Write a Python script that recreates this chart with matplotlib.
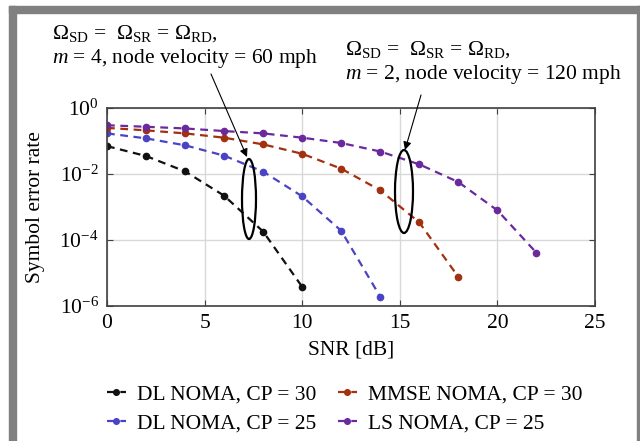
import numpy as np
import matplotlib
matplotlib.use('Agg')
from matplotlib import pyplot as plt
from matplotlib.patches import Ellipse, Rectangle

plt.rcParams['font.family'] = 'Liberation Serif'
plt.rcParams['mathtext.fontset'] = 'custom'
plt.rcParams['mathtext.rm'] = 'Liberation Serif'
plt.rcParams['mathtext.it'] = 'Liberation Serif:italic'

# data
snr_dl30 = [0, 2, 4, 6, 8, 10]
ser_dl30 = [0.07, 0.035, 0.012, 2.2e-3, 1.8e-4, 3.8e-6]
snr_dl25 = [0, 2, 4, 6, 8, 10, 12, 14]
ser_dl25 = [0.17, 0.12, 0.074, 0.036, 0.0118, 2.1e-3, 1.9e-4, 1.9e-6]
snr_mmse30 = [0, 2, 4, 6, 8, 10, 12, 14, 16, 18]
ser_mmse30 = [0.25, 0.21, 0.17, 0.126, 0.079, 0.041, 0.0145, 3.2e-3, 3.4e-4, 7.6e-6]
snr_ls25 = [0, 2, 4, 6, 8, 10, 12, 14, 16, 18, 20, 22]
ser_ls25 = [0.3, 0.27, 0.24, 0.2, 0.17, 0.126, 0.087, 0.048, 0.0196, 5.7e-3, 7.9e-4, 4.1e-5]

labels = ['DL NOMA, CP = 30', 'DL NOMA, CP = 25', 'MMSE NOMA, CP = 30', 'LS NOMA, CP = 25']
colors = ['#111111', '#4a44c4', '#a3300f', '#6a2a9c']
fs = 15.5

fig = plt.figure(figsize=(6.4, 4.41), dpi=100)
W, H = 640., 441.

# grey frame (open at the bottom)
fig.patches.append(Rectangle((9 / W, 0), 7 / W, 1 - 6 / H, transform=fig.transFigure,
                             color='#808080', zorder=0))
fig.patches.append(Rectangle((9 / W, 1 - 13 / H), 1, 7 / H, transform=fig.transFigure,
                             color='#808080', zorder=0))
fig.patches.append(Rectangle((637 / W, 0), 3 / W, 1 - 6 / H, transform=fig.transFigure,
                             color='#808080', zorder=0))

ax = fig.add_axes([107 / W, 1 - 306 / H, 488 / W, 198 / H])

lines = []
for x, y, c, lab in zip([snr_dl30, snr_dl25, snr_mmse30, snr_ls25],
                        [ser_dl30, ser_dl25, ser_mmse30, ser_ls25], colors, labels):
    l, = ax.plot(x, y, linestyle=(0, (3.5, 2.5)), color=c, lw=1.6, marker='o', ms=4.5,
                 label=lab)
    lines.append(l)

ax.set_yscale('log')
ax.set_xlim(0, 25)
ax.set_ylim(1e-6, 1)
ax.set_xticks([0, 5, 10, 15, 20, 25])
ax.set_yticks([1e-6, 1e-4, 1e-2, 1])
ax.minorticks_off()
ax.grid(True, color='#d8d8d8', lw=1)
ax.set_axisbelow(True)
ax.tick_params(direction='in', top=True, right=True, labelsize=fs, color='#404040',
               length=4, pad=6)
for s in ax.spines.values():
    s.set_color('#404040')
    s.set_linewidth(1.2)
ax.set_xlabel('SNR [dB]', fontsize=fs, labelpad=5)
ax.set_ylabel('Symbol error rate', fontsize=fs, labelpad=10)

# ellipses around groups of curves
ax.add_patch(Ellipse(((249 - 107) / 488, (306 - 199) / 198), 14 / 488, 80 / 198,
                     transform=ax.transAxes, fill=False, ec='black', lw=1.6, zorder=5))
ax.add_patch(Ellipse(((404 - 107) / 488, (306 - 191.5) / 198), 18 / 488, 83 / 198,
                     transform=ax.transAxes, fill=False, ec='black', lw=1.6, zorder=5))

arrow = dict(arrowstyle='-|>', color='black', lw=0.8, mutation_scale=12, shrinkA=0, shrinkB=0)
ax.annotate('', xy=(247 / W, 1 - 157 / H), xytext=(211 / W, 1 - 74 / H),
            xycoords='figure fraction', textcoords='figure fraction', arrowprops=arrow)
ax.annotate('', xy=(405 / W, 1 - 150 / H), xytext=(421 / W, 1 - 95 / H),
            xycoords='figure fraction', textcoords='figure fraction', arrowprops=arrow)

fig.text(52 / W, 1 - 34 / H, r'$\Omega_{\rm SD}$ =  $\Omega_{\rm SR}$ = $\Omega_{\rm RD}$,',
         fontsize=fs, va='center')
fig.text(52 / W, 1 - 58 / H, r'$m$ = 4, node velocity = 60 mph', fontsize=fs, va='center')
fig.text(345 / W, 1 - 50 / H, r'$\Omega_{\rm SD}$ =  $\Omega_{\rm SR}$ = $\Omega_{\rm RD}$,',
         fontsize=fs, va='center')
fig.text(345 / W, 1 - 74 / H, r'$m$ = 2, node velocity = 120 mph', fontsize=fs, va='center')

fig.legend(lines, labels, ncol=2, frameon=False, fontsize=fs,
           loc='upper left', bbox_to_anchor=(98 / W, 1 - 376 / H), borderaxespad=0,
           handlelength=0.9, handletextpad=0.5, columnspacing=1.0, labelspacing=0.4,
           markerscale=0.9)

fig.savefig('out.png', dpi=100)
